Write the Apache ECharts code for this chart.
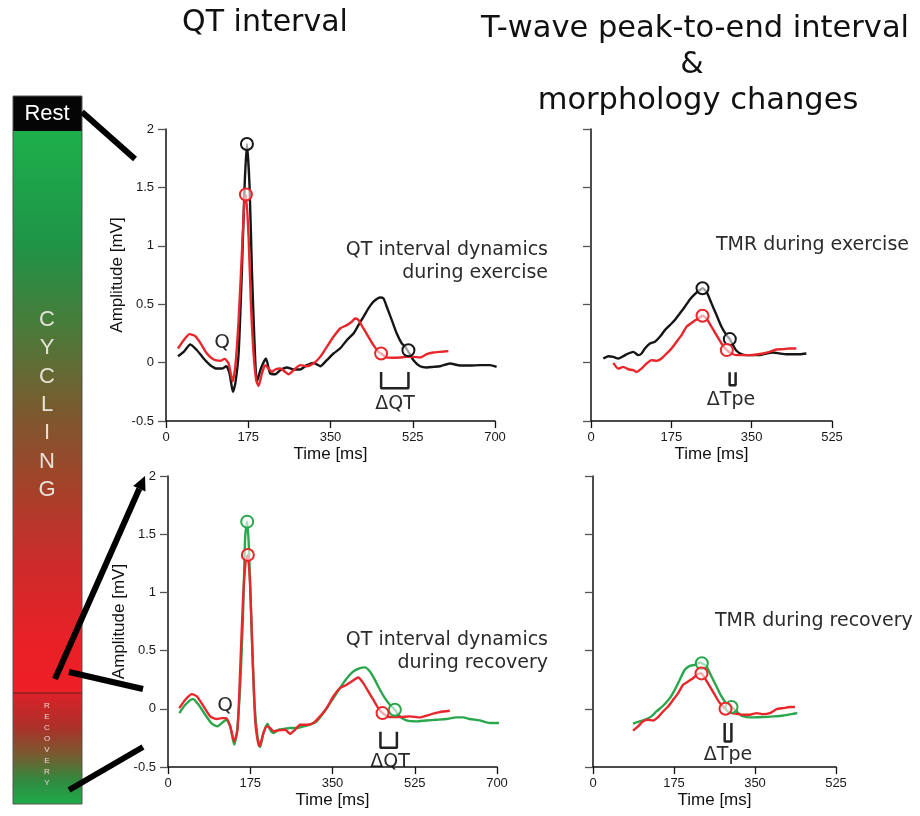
<!DOCTYPE html>
<html>
<head>
<meta charset="utf-8">
<script src="https://cdn.jsdelivr.net/npm/echarts@6/dist/echarts.min.js"></script>
<style>
  html, body { margin: 0; padding: 0; background: #fff; }
  #chart { width: 920px; height: 816px; }
</style>
</head>
<body>
<div id="chart"></div>
<script>
// time ticks (ms) and amplitude range (mV)
const timeTicksLong = [0, 175, 350, 525, 700];
const timeTicksShort = [0, 175, 350, 525];
const ampRange = [-0.5, 2];

// QT interval, exercise: [time ms, amplitude mV]
const exerciseBlack = [[25.5,0.055],[37.6,0.092],[51.7,0.155],[65.9,0.106],[80.1,0.035],[94.2,-0.022],[108.4,-0.051],[119.0,-0.051],[128.2,-0.031],[135.3,-0.094],[142.4,-0.251],[147.4,-0.180],[154.5,0.078],[161.5,0.793],[167.2,1.508],[172.2,1.871],[177.8,1.508],[182.8,0.793],[187.8,0.221],[193.4,-0.165],[201.9,-0.051],[212.6,0.035],[221.8,-0.094],[232.4,-0.100],[243.0,-0.065],[257.2,-0.042],[271.4,-0.059],[285.5,-0.059],[299.7,-0.022],[313.9,-0.002],[328.0,-0.031],[342.2,0.021],[356.4,0.078],[370.5,0.121],[384.7,0.192],[398.9,0.249],[409.5,0.321],[420.1,0.392],[430.8,0.464],[441.4,0.521],[455.6,0.558],[462.6,0.550],[469.7,0.478],[480.4,0.364],[491.0,0.249],[501.6,0.164],[508.7,0.135],[515.8,0.092],[526.4,0.021],[540.6,-0.031],[554.7,-0.042],[568.9,-0.037],[583.1,-0.031],[604.3,-0.008],[625.6,-0.025],[646.9,-0.025],[668.1,-0.022],[689.4,-0.022],[703.5,-0.037]];
const exerciseRed = [[25.5,0.121],[37.6,0.192],[50.3,0.244],[62.3,0.227],[73.0,0.169],[87.1,0.078],[101.3,0.026],[115.5,0.015],[124.7,0.032],[133.2,-0.008],[141.7,-0.160],[147.4,-0.037],[154.5,0.364],[161.5,0.936],[166.5,1.365],[170.0,1.439],[175.7,1.079],[180.7,0.507],[186.3,0.078],[192.0,-0.151],[197.0,-0.200],[204.0,-0.094],[211.1,-0.022],[218.2,-0.051],[225.3,-0.080],[232.4,-0.059],[243.0,-0.051],[253.6,-0.080],[260.7,-0.100],[271.4,-0.065],[285.5,-0.022],[299.7,-0.031],[313.9,-0.008],[328.0,0.049],[342.2,0.135],[356.4,0.221],[370.5,0.292],[384.7,0.321],[395.3,0.350],[402.4,0.378],[409.5,0.364],[420.1,0.292],[430.8,0.221],[441.4,0.149],[452.0,0.092],[457.7,0.078],[469.7,0.044],[483.9,0.041],[498.1,0.044],[512.2,0.049],[526.4,0.049],[540.6,0.044],[554.7,0.072],[568.9,0.086],[583.1,0.092],[600.8,0.098]];
const exerciseBlackMarks = [[172.2,1.871],[515.8,0.106]];
const exerciseRedMarks = [[170.0,1.439],[457.7,0.078]];

// QT interval, recovery
const recoveryGreen = [[24.1,-0.037],[36.8,0.035],[53.1,0.084],[65.1,0.035],[79.3,-0.051],[93.4,-0.128],[105.5,-0.151],[114.7,-0.122],[123.9,-0.094],[132.4,-0.151],[140.8,-0.308],[146.5,-0.208],[153.6,0.192],[159.3,0.764],[164.2,1.479],[168.5,1.608],[172.7,1.336],[178.4,0.621],[184.0,0.049],[190.4,-0.237],[196.1,-0.328],[203.1,-0.208],[211.6,-0.128],[217.3,-0.180],[224.4,-0.208],[235.0,-0.180],[245.6,-0.174],[259.8,-0.165],[273.9,-0.165],[288.1,-0.151],[302.2,-0.137],[316.4,-0.108],[330.5,-0.037],[344.7,0.049],[358.9,0.135],[373.0,0.221],[383.6,0.278],[394.2,0.321],[408.4,0.350],[419.0,0.356],[429.6,0.321],[440.2,0.249],[450.9,0.164],[461.5,0.092],[472.1,0.035],[482.7,-0.008],[493.3,-0.065],[507.5,-0.100],[528.7,-0.108],[550.0,-0.100],[571.2,-0.094],[592.4,-0.088],[613.7,-0.074],[627.8,-0.074],[642.0,-0.088],[663.2,-0.100],[684.4,-0.122],[705.0,-0.122]];
const recoveryRed = [[24.1,0.006],[36.8,0.078],[51.0,0.126],[61.6,0.106],[75.7,0.021],[89.9,-0.065],[104.0,-0.088],[114.7,-0.080],[123.9,-0.080],[132.4,-0.151],[140.8,-0.280],[147.9,-0.180],[153.6,0.335],[159.3,0.907],[164.9,1.251],[169.9,1.322],[174.8,1.050],[179.8,0.478],[185.4,-0.094],[190.4,-0.265],[194.6,-0.323],[203.1,-0.208],[210.2,-0.151],[217.3,-0.165],[224.4,-0.194],[235.0,-0.185],[249.1,-0.180],[259.8,-0.214],[270.4,-0.180],[281.0,-0.137],[295.1,-0.137],[309.3,-0.122],[323.5,-0.065],[337.6,0.006],[351.8,0.106],[365.9,0.178],[380.1,0.207],[390.7,0.235],[404.9,0.269],[415.5,0.221],[426.1,0.149],[436.7,0.078],[447.3,0.006],[456.5,-0.037],[472.1,-0.071],[493.3,-0.071],[514.5,-0.065],[535.8,-0.074],[549.9,-0.059],[564.1,-0.042],[578.3,-0.028],[599.5,-0.017]];
const recoveryGreenMarks = [[168.5,1.608],[482.7,-0.008]];
const recoveryRedMarks = [[169.9,1.322],[456.5,-0.037]];

// T-wave morphology (TMR), exercise
const tmrExBlack = [[26.8,0.035],[37.7,0.055],[48.6,0.049],[59.5,0.035],[70.3,0.055],[81.2,0.078],[92.1,0.092],[103.0,0.064],[110.2,0.078],[117.5,0.121],[128.4,0.164],[139.2,0.178],[150.1,0.221],[161.0,0.278],[171.9,0.321],[182.7,0.364],[193.6,0.421],[204.5,0.478],[215.4,0.541],[226.2,0.587],[237.1,0.621],[242.9,0.636],[251.6,0.607],[262.5,0.507],[273.4,0.407],[284.3,0.307],[295.1,0.235],[302.4,0.201],[309.6,0.149],[316.9,0.101],[327.8,0.072],[338.6,0.064],[353.1,0.064],[367.6,0.064],[382.1,0.078],[396.7,0.086],[411.2,0.078],[425.7,0.072],[440.2,0.072],[454.7,0.072],[469.2,0.078]];
const tmrExRed = [[48.6,-0.002],[59.5,-0.051],[70.3,-0.037],[81.2,-0.057],[92.1,-0.065],[99.3,-0.080],[110.2,-0.051],[121.1,-0.008],[132.0,0.021],[142.9,0.015],[153.7,0.035],[164.6,0.078],[175.5,0.121],[186.4,0.178],[197.2,0.235],[208.1,0.307],[222.6,0.350],[233.5,0.378],[242.9,0.401],[251.6,0.378],[262.5,0.307],[273.4,0.235],[284.3,0.164],[295.9,0.107],[306.0,0.078],[316.9,0.064],[331.4,0.064],[345.9,0.064],[360.4,0.069],[374.9,0.078],[389.4,0.092],[403.9,0.112],[418.4,0.115],[432.9,0.121],[447.4,0.121]];
const tmrExBlackMarks = [[242.9,0.636],[302.4,0.201]];
const tmrExRedMarks = [[242.9,0.401],[295.9,0.107]];

// TMR, recovery
const tmrRecGreen = [[86.5,-0.128],[101.0,-0.108],[115.4,-0.088],[126.2,-0.065],[137.0,-0.023],[151.4,0.026],[165.9,0.092],[176.7,0.163],[187.5,0.249],[198.3,0.335],[209.1,0.369],[220.0,0.378],[230.8,0.398],[235.1,0.392],[245.2,0.364],[256.0,0.278],[266.8,0.192],[277.6,0.106],[288.5,0.043],[299.3,0.015],[310.1,-0.023],[320.9,-0.060],[331.7,-0.071],[346.2,-0.074],[367.8,-0.071],[389.4,-0.065],[411.1,-0.057],[432.7,-0.043],[441.3,-0.037]];
const tmrRecRed = [[86.5,-0.188],[97.4,-0.151],[108.2,-0.108],[119.0,-0.094],[129.8,-0.100],[140.6,-0.071],[151.4,-0.023],[162.3,0.020],[173.1,0.077],[183.9,0.135],[194.7,0.206],[205.5,0.235],[216.3,0.263],[227.2,0.301],[234.4,0.304],[241.6,0.263],[252.4,0.192],[263.2,0.120],[274.0,0.049],[286.3,0.000],[299.3,-0.037],[310.1,-0.043],[324.5,-0.051],[338.9,-0.051],[353.4,-0.037],[367.8,-0.046],[382.2,-0.037],[396.6,-0.003],[411.1,0.006],[425.5,0.015],[436.3,0.015]];
const tmrRecGreenMarks = [[235.1,0.392],[299.3,0.015]];
const tmrRecRedMarks = [[234.4,0.304],[286.3,0.000]];

// interval brackets: [start ms, end ms, top mV, bottom mV]
const qtExBracket = [457.7, 515.8, -0.08, -0.22];
const qtRecBracket = [452, 487, -0.197, -0.334];
const tpeExBracket = [302, 315, -0.082, -0.194];
const tpeRecBracket = [284.5, 299, -0.122, -0.28];

const BLACK = '#161616', RED = '#e8262b', GREEN = '#2aa64c';
const TXT = '#2b2b2b';
const SANS = '"DejaVu Sans", sans-serif';
const ARIAL = '"Liberation Sans", Arial, sans-serif';

const chart = echarts.init(document.getElementById('chart'));

function xAxisFor(gridIndex, ticks) {
  return {
    type: 'value', gridIndex: gridIndex,
    min: 0, max: ticks[ticks.length - 1], interval: 175,
    name: 'Time [ms]', nameLocation: 'middle', nameGap: 25,
    nameTextStyle: { color: '#111', fontSize: 17, fontFamily: ARIAL },
    axisLine: { onZero: false, lineStyle: { color: '#111', width: 1.5 } },
    axisTick: { length: 7, lineStyle: { color: '#111', width: 1.3 } },
    axisLabel: { color: '#1a1a1a', fontSize: 13, fontFamily: ARIAL, margin: 10 },
    splitLine: { show: false }
  };
}

function yAxisFor(gridIndex, withLabels) {
  return {
    type: 'value', gridIndex: gridIndex,
    min: ampRange[0], max: ampRange[1], interval: 0.5,
    name: withLabels ? 'Amplitude [mV]' : '', nameLocation: 'middle', nameGap: 40, nameRotate: 90,
    nameTextStyle: { color: '#111', fontSize: 17, fontFamily: ARIAL },
    axisLine: { onZero: false, lineStyle: { color: '#111', width: 1.5 } },
    axisTick: { length: 8, lineStyle: { color: '#555', width: 1.3 } },
    axisLabel: { show: withLabels, color: '#1a1a1a', fontSize: 13, fontFamily: ARIAL, margin: 12 },
    splitLine: { show: false }
  };
}

function trace(data, color, g) {
  return {
    type: 'line', data: data, xAxisIndex: g, yAxisIndex: g,
    showSymbol: false, smooth: 0.2, silent: true,
    lineStyle: { color: color, width: 2.4 }
  };
}

function marks(data, color, g) {
  return {
    type: 'scatter', data: data, xAxisIndex: g, yAxisIndex: g,
    symbol: 'circle', symbolSize: 12, silent: true, z: 5,
    itemStyle: { color: 'rgba(255,255,255,0.6)', borderColor: color, borderWidth: 2, opacity: 1 }
  };
}

function bracket(b, g, w) {
  return {
    type: 'line', xAxisIndex: g, yAxisIndex: g, showSymbol: false, silent: true,
    data: [[b[0], b[2]], [b[0], b[3]], [b[1], b[3]], [b[1], b[2]]],
    lineStyle: { color: '#222', width: w }
  };
}

function txt(text, x, y, size, align, color, font) {
  return {
    type: 'text', x: x, y: y, silent: true,
    style: { text: text, fill: color || TXT, fontSize: size, fontFamily: font || SANS,
             align: align || 'center', verticalAlign: 'middle' }
  };
}

// phase bar on the left
const barX = 13, barW = 69;
const bar = [
  { type: 'rect', shape: { x: barX, y: 96, width: barW, height: 35 }, style: { fill: '#050505' } },
  { type: 'rect', shape: { x: barX, y: 131, width: barW, height: 562 },
    style: { fill: { type: 'linear', x: 0, y: 0, x2: 0, y2: 1, colorStops: [
      { offset: 0, color: '#1daf4b' }, { offset: 0.2, color: '#1f9447' },
      { offset: 0.35, color: '#4a7b3a' }, { offset: 0.5, color: '#7b5a2e' },
      { offset: 0.63, color: '#a4422a' }, { offset: 0.78, color: '#cf2a2a' },
      { offset: 0.92, color: '#eb2027' }, { offset: 1, color: '#ed1f27' } ] } } },
  { type: 'rect', shape: { x: barX, y: 693, width: barW, height: 111 },
    style: { fill: { type: 'linear', x: 0, y: 0, x2: 0, y2: 1, colorStops: [
      { offset: 0, color: '#dc2229' }, { offset: 0.3, color: '#ad2f29' },
      { offset: 0.55, color: '#7a5a30' }, { offset: 0.8, color: '#2f8c40' },
      { offset: 1, color: '#20aa4a' } ] } } },
  { type: 'line', shape: { x1: barX, y1: 693, x2: barX + barW, y2: 693 }, style: { stroke: '#5a2222', lineWidth: 1 } },
  { type: 'rect', shape: { x: barX, y: 96, width: barW, height: 708 }, style: { fill: 'none', stroke: '#555', lineWidth: 1 } },
  txt('Rest', 47, 114, 22, 'center', '#ffffff', ARIAL)
];
'CYCLING'.split('').forEach(function (c, i) {
  bar.push(txt(c, 47, 320 + i * 28.3, 22, 'center', '#e6e2d6', ARIAL));
});
'RECOVERY'.split('').forEach(function (c, i) {
  bar.push(txt(c, 47, 706 + i * 11, 8, 'center', '#f2d6cc', ARIAL));
});

// connectors from the bar to the panels
const connectors = [
  { type: 'line', shape: { x1: 82, y1: 112, x2: 135, y2: 159 }, style: { stroke: '#000', lineWidth: 6 } },
  { type: 'line', shape: { x1: 55, y1: 679, x2: 139.3, y2: 488.8 }, style: { stroke: '#000', lineWidth: 6 } },
  { type: 'polygon', shape: { points: [[145, 476], [145.5, 491.5], [133.2, 486]] }, style: { fill: '#000' } },
  { type: 'line', shape: { x1: 69, y1: 672, x2: 143, y2: 689 }, style: { stroke: '#000', lineWidth: 6 } },
  { type: 'line', shape: { x1: 69, y1: 790, x2: 143, y2: 747 }, style: { stroke: '#000', lineWidth: 6 } }
];

const labels = [
  txt('QT interval', 265, 23, 30, 'center', '#111'),
  txt('T-wave peak-to-end interval', 695, 29, 30.5, 'center', '#111'),
  txt('&', 692, 65, 30, 'center', '#111'),
  txt('morphology changes', 698, 101, 30.5, 'center', '#111'),
  txt('QT interval dynamics', 548, 250, 19, 'right'),
  txt('during exercise', 548, 273, 19, 'right'),
  txt('TMR during exercise', 716, 245, 19, 'left'),
  txt('QT interval dynamics', 548, 640, 19, 'right'),
  txt('during recovery', 548, 663, 19, 'right'),
  txt('TMR during recovery', 715, 621, 19, 'left'),
  txt('Q', 222, 343, 20),
  txt('Q', 225, 706, 20),
  txt('\u0394QT', 395, 404, 19),
  txt('\u0394QT', 390, 762, 19),
  txt('\u0394Tpe', 731, 400, 19),
  txt('\u0394Tpe', 728, 755, 19)
];

const option = {
  animation: false,
  backgroundColor: '#ffffff',
  grid: [
    { left: 166, top: 129, width: 329, height: 292 },
    { left: 591, top: 129, width: 241, height: 292 },
    { left: 168, top: 476, width: 329, height: 291 },
    { left: 593, top: 476, width: 243, height: 291 }
  ],
  xAxis: [xAxisFor(0, timeTicksLong), xAxisFor(1, timeTicksShort), xAxisFor(2, timeTicksLong), xAxisFor(3, timeTicksShort)],
  yAxis: [yAxisFor(0, true), yAxisFor(1, false), yAxisFor(2, true), yAxisFor(3, false)],
  series: [
    trace(exerciseBlack, BLACK, 0), trace(exerciseRed, RED, 0),
    marks(exerciseBlackMarks, BLACK, 0), marks(exerciseRedMarks, RED, 0),
    bracket(qtExBracket, 0, 2.5),
    trace(tmrExBlack, BLACK, 1), trace(tmrExRed, RED, 1),
    marks(tmrExBlackMarks, BLACK, 1), marks(tmrExRedMarks, RED, 1),
    bracket(tpeExBracket, 1, 2.5),
    trace(recoveryGreen, GREEN, 2), trace(recoveryRed, RED, 2),
    marks(recoveryGreenMarks, GREEN, 2), marks(recoveryRedMarks, RED, 2),
    bracket(qtRecBracket, 2, 2.5),
    trace(tmrRecGreen, GREEN, 3), trace(tmrRecRed, RED, 3),
    marks(tmrRecGreenMarks, GREEN, 3), marks(tmrRecRedMarks, RED, 3),
    bracket(tpeRecBracket, 3, 2.5)
  ],
  graphic: bar.concat(connectors, labels)
};

chart.setOption(option);
</script>
</body>
</html>
